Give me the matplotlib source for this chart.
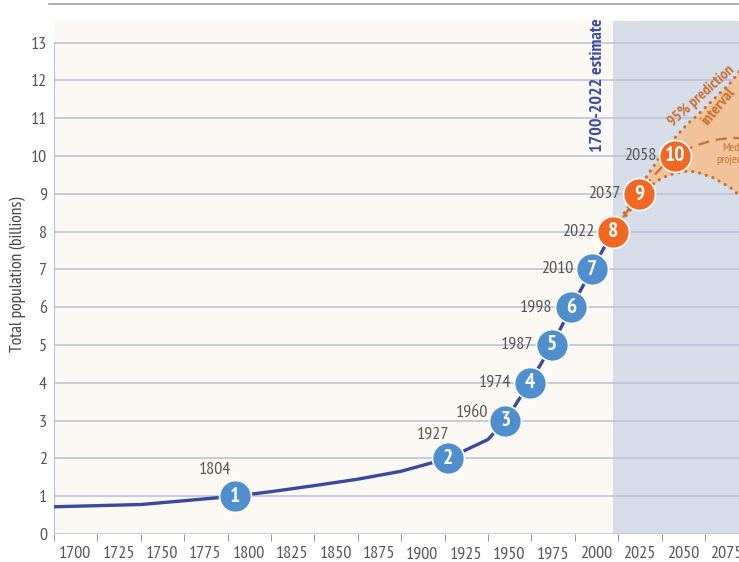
import matplotlib
matplotlib.use('Agg')
import matplotlib.pyplot as plt
import matplotlib.transforms as mtrans
from matplotlib.lines import Line2D

plt.rcParams['font.family'] = ['PT Sans Narrow', 'DejaVu Sans']

# estimates 1700-2022
hist_years = [1700, 1725, 1750, 1775, 1804, 1825, 1850, 1875, 1900, 1927, 1950, 1960, 1974, 1987, 1998, 2010, 2022]
hist_pop = [0.72, 0.75, 0.78, 0.88, 1.0, 1.12, 1.28, 1.45, 1.66, 2.0, 2.5, 3.0, 4.0, 5.0, 6.0, 7.0, 8.0]

# projection 2022-2100
proj_years = [2022, 2030, 2037, 2045, 2050, 2058, 2065, 2070, 2080, 2090, 2095]
proj_median = [8.0, 8.52, 9.0, 9.45, 9.7, 10.0, 10.18, 10.28, 10.42, 10.48, 10.47]
proj_upper = [8.02, 8.6, 9.15, 9.7, 10.05, 10.5, 10.85, 11.05, 11.5, 11.95, 12.25]
proj_lower = [7.98, 8.45, 8.88, 9.25, 9.42, 9.55, 9.6, 9.58, 9.42, 9.15, 8.95]

# billion milestones
mile_years = [1804, 1927, 1960, 1974, 1987, 1998, 2010, 2022, 2037, 2058]
mile_pop = [1, 2, 3, 4, 5, 6, 7, 8, 9, 10]

x_ticks = list(range(1700, 2100, 25))
y_ticks = list(range(0, 14))

blue_line = '#3949a0'
blue_dot = '#4f8fcd'
orange_dot = '#f26722'
orange_txt = '#c8712f'
grey_txt = '#555555'
grid_c = '#b8bfd6'

fig = plt.figure(figsize=(7.39, 5.62), dpi=100)
ax = fig.add_axes([54 / 739, 28 / 562, 1 - 54 / 739, (534 - 21) / 562])
ax.set_xlim(1700, 2094.6)
ax.set_ylim(0, 13.57)
ax.set_facecolor('#fcf9f4')

# projection period background
ax.axvspan(2022, 2100, color='#d7dce9', zorder=0, lw=0)

for v in y_ticks:
    ax.axhline(v, color=grid_c, lw=1.1, zorder=1)

for s in ['top', 'right', 'bottom']:
    ax.spines[s].set_visible(False)
ax.spines['left'].set_color(grid_c)
ax.spines['left'].set_bounds(0, 13)

ax.set_xticks(x_ticks)
ax.set_xticklabels([str(v) for v in x_ticks])
ax.set_yticks(y_ticks)
ax.tick_params(axis='x', length=5, color='#9a9a9a', pad=4, labelsize=13, labelcolor=grey_txt)
ax.tick_params(axis='y', length=0, pad=5, labelsize=13, labelcolor=grey_txt)
shift = mtrans.ScaledTranslation(5 / 100, 0, fig.dpi_scale_trans)
for lab in ax.get_xticklabels():
    lab.set_horizontalalignment('left')
    lab.set_transform(lab.get_transform() + shift)

ax.set_ylabel('Total population (billions)', fontsize=12.5, color='#444444', va='center')
ax.yaxis.set_label_coords(-36 / 685, (534 - 274) / 513)

# prediction interval
ax.fill_between(proj_years, proj_lower, proj_upper, color='#f2c29b', lw=0, zorder=2)
dot = dict(color=orange_txt, lw=2.2, linestyle=(0, (0.1, 2.2)), dash_capstyle='round', zorder=3)
ax.plot(proj_years, proj_upper, **dot)
ax.plot(proj_years, proj_lower, **dot)
ax.plot(proj_years, proj_median, color=orange_txt, lw=1.6, linestyle=(0, (5, 3)), zorder=3)

ax.plot(hist_years, hist_pop, color=blue_line, lw=2.4, zorder=4, solid_capstyle='butt')

for i, (yr, p) in enumerate(zip(mile_years, mile_pop)):
    c = blue_dot if yr < 2022 else orange_dot
    ax.plot(yr, p, 'o', ms=23, color=c, mec='white', mew=1.2, zorder=5)
    ax.text(yr, p, str(i + 1), ha='center', va='center', color='white',
            fontsize=15.5, fontweight='bold', zorder=6)

# year labels beside milestones
label_off = {1804: (-14, 19, 'center'), 1927: (-11, 17, 'center'), 1960: (-12, 6, 'right')}
for yr, p in zip(mile_years, mile_pop):
    dx, dy, ha = label_off.get(yr, (-13.5, 0, 'right'))
    ax.annotate(str(yr), (yr, p), xytext=(dx, dy), textcoords='offset points',
                ha=ha, va='center', fontsize=13, color=grey_txt, zorder=6)

ax.text(2013.3, 10.1, '1700-2022 estimate', rotation=90, ha='center', va='bottom',
        color='#3b4ea3', fontsize=13, fontweight='bold', zorder=6)
ax.text(2073, 11.6, '95% prediction', rotation=42, ha='center', va='center',
        color=orange_txt, fontsize=11, fontweight='bold', zorder=6)
ax.text(2082.5, 11.3, 'interval', rotation=50, ha='center', va='center',
        color=orange_txt, fontsize=11.5, fontweight='bold', zorder=6)
ax.text(2093.5, 10.05, 'Median\nprojection', ha='center', va='center',
        color=orange_txt, fontsize=8.5, linespacing=1.1, zorder=6)

fig.add_artist(Line2D([49 / 739, 1], [1 - 4 / 562, 1 - 4 / 562], color='#9aa0b0', lw=1.2))

fig.savefig('out.png', dpi=100)
